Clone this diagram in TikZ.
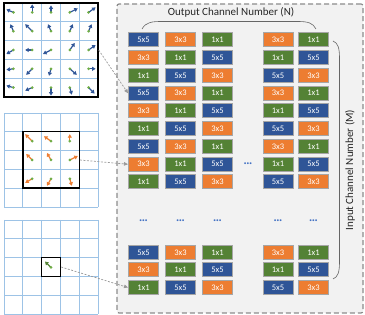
\documentclass[tikz,border=0pt]{standalone}
\usepackage{fontspec}
\setmainfont{Carlito}
\usetikzlibrary{arrows.meta,positioning}
\definecolor{k5}{HTML}{2F5597}
\definecolor{k3}{HTML}{ED7D31}
\definecolor{k1}{HTML}{548235}
\definecolor{dotg}{HTML}{70AD47}
\definecolor{gline}{HTML}{9DC3E6}
\definecolor{frame}{HTML}{8C8C8C}
\definecolor{ell}{HTML}{4472C4}
\tikzset{
  blk/.style={draw=black!35,line width=1pt,minimum width=30pt,minimum height=14pt,inner sep=0pt,
              text=white,font=\fontsize{8.5}{9}\selectfont},
  t0/.style={blk,fill=k5},
  t1/.style={blk,fill=k3},
  t2/.style={blk,fill=k1},
  vec/.style={-{Triangle[length=3.5pt,width=4pt]},line width=1.2pt,draw=#1},
  vec/.default=k5,
  link/.style={-{Triangle[length=4pt,width=3.5pt]},draw=black!40,line width=0.7pt,dash pattern=on 2pt off 1.5pt},
  kbox/.style={draw=black,line width=1.4pt,inner sep=0pt,minimum size=#1},
  cell/.style={draw=gline,line width=0.8pt},
  panel/.style={draw=frame,fill=black!5,line width=1.2pt,dash pattern=on 5pt off 3pt,rounded corners=2pt},
  brace/.style={draw=black!60,line width=0.6pt},
  ttl/.style={font=\fontsize{11}{13}\selectfont,text=black!85},
  dots/.style={text=ell,font=\bfseries\fontsize{10}{10}\selectfont,inner sep=1pt},
}

\begin{document}
\begin{tikzpicture}[x=1pt,y=-1pt]
  \useasboundingbox (0,0) rectangle (365,315);
  % kernel panel
  \node[panel,minimum width=246pt,minimum height=309pt] (pan) at (240,158.5) {};
  % three feature grids
  \foreach \oy in {3,113,220}
    \foreach \i in {0,...,5}{
      \draw[cell] (4+18.8*\i,\oy) -- (4+18.8*\i,\oy+94);
      \draw[cell] (4,\oy+18.8*\i) -- (98,\oy+18.8*\i);
    }
  \node[kbox=94pt] (g1) at (51,50) {};
  \node[kbox=56.4pt] (g2) at (51,160) {};
  \node[kbox=18.8pt] (g3) at (51,267) {};
  % offsets, full grid
  \foreach \i/\j/\dx/\dy in {1/1/-7/-3,1/2/0/-8,1/3/0/-7,1/4/8/-4,1/5/7/-5,
      2/1/-3/-7,2/2/-7/-7,2/3/-3/-7,2/4/3/-7,2/5/3/-7,
      3/1/-7/4,3/2/-7/0,3/3/-8/4,3/4/5/-7,3/5/7/-5,
      4/1/-7/1,4/2/-6/6,4/3/-2/7,4/4/7/6,4/5/7/0,
      5/1/-7/-2,5/2/-7/3,5/3/0/8,5/4/2/7,5/5/6/6}{
    \coordinate (p) at ({4+18.8*(\j-0.5)},{3+18.8*(\i-0.5)});
    \draw[vec] (p) -- ++(\dx,\dy);
    \fill[dotg] (p) circle (1.5pt);
  }
  % offsets, 3x3 window
  \foreach \i/\j/\dx/\dy in {2/2/-7/-7,2/3/-7/-5,2/4/0/-7,
      3/2/-6/-6,3/3/-4/-7,3/4/8/-4,
      4/2/-7/4,4/3/-4/7,4/4/2/7}{
    \coordinate (p) at ({4+18.8*(\j-0.5)},{113+18.8*(\i-0.5)});
    \draw[vec=k3] (p) -- ++(\dx,\dy);
    \fill[dotg] (p) circle (1.5pt);
  }
  \draw[vec=k1] (51,267.5) -- ++(-6,-6);
  \fill[dotg] (51,267.5) circle (1.5pt);
  % kernel blocks
  \foreach \r/\y in {1/40,2/57.75,3/75.5,4/93.25,5/111,6/128.75,7/146.5,8/164.25,9/182,
      10/252.5,11/270,12/287.5}
    \foreach \c/\x/\k in {1/143.5/0,2/180.5/1,3/217.5/2,4/278/1,5/313.5/2}{
      \pgfmathtruncatemacro\kt{mod(\r-1+\k,3)}
      \node[t\kt] (b-\r-\c) at (\x,\y) {\ifcase\kt\relax 5x5\or 3x3\or 1x1\fi};
    }
  \foreach \c/\x in {1/143.5,2/180.5,3/217.5,4/278,5/313.5}
    \node[dots] (d-\c) at (\x,222) {···};
  \node[dots] (d-mid) at (248,164.25) {···};
  % channel labels
  \draw[brace] (142,29) .. controls (146,22) and (152,21.5) .. (162,21.5) -- (298,21.5)
    .. controls (308,21.5) and (313,23) .. (316,29);
  \node[ttl] (outn) at (231,12) {Output Channel Number (N)};
  \draw[brace] (333,41) .. controls (338,43) and (339.5,48) .. (339.5,58) -- (339.5,262)
    .. controls (339.5,272) and (338,277) .. (333,279);
  \node[ttl,rotate=90] (inm) at (350,170) {Input Channel Number (M)};
  % grid to kernel
  \draw[link] (g1.east) -- (b-4-1.west);
  \draw[link] (g2.east) -- (b-8-1.west);
  \draw[link] (g3.east) -- (b-12-1.west);
\end{tikzpicture}
\end{document}
